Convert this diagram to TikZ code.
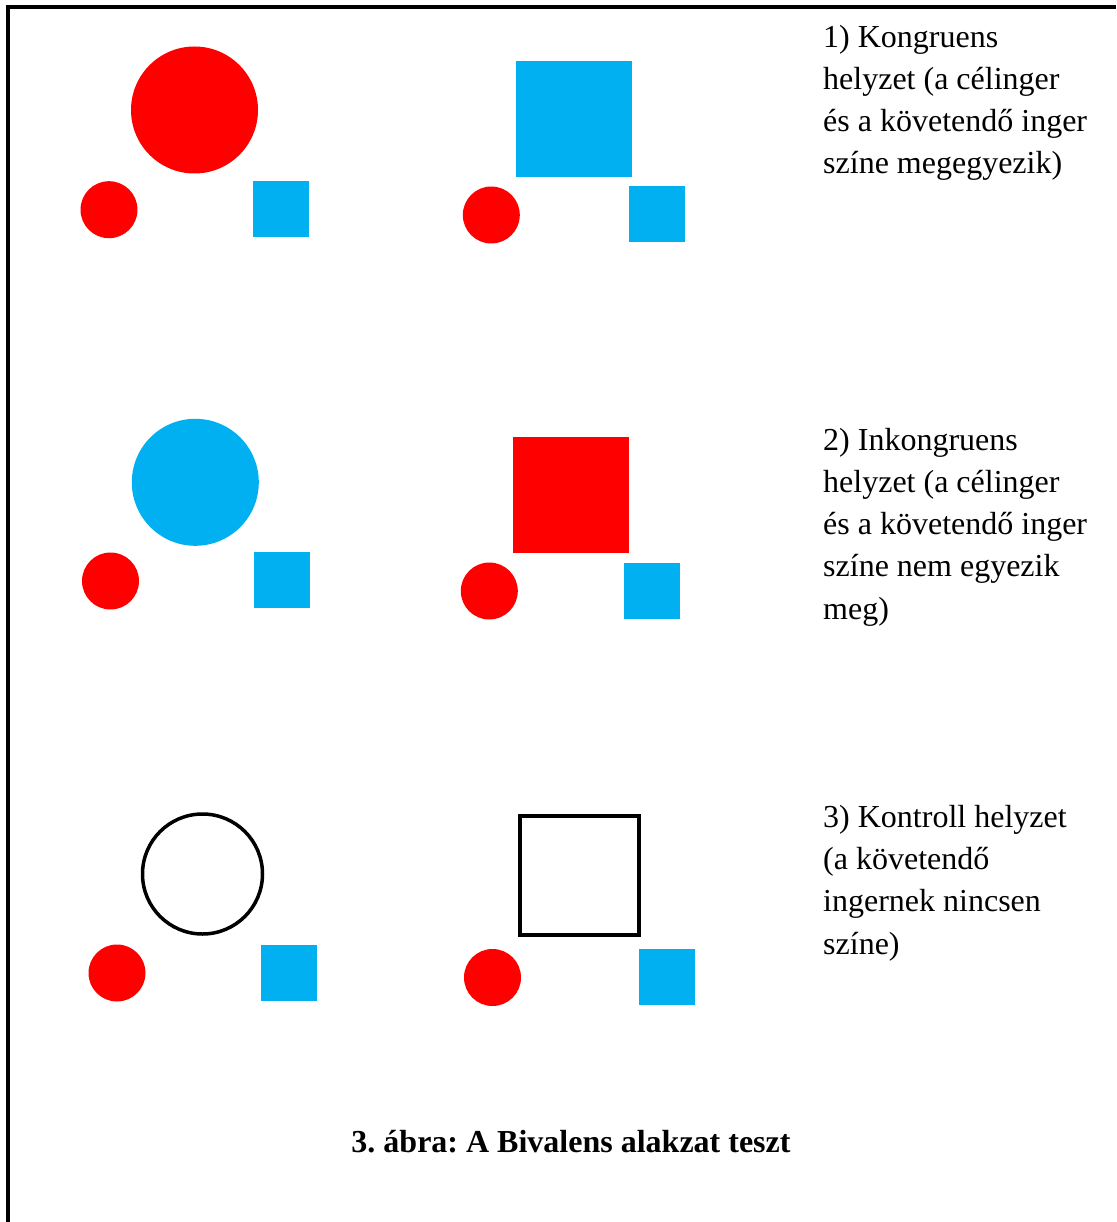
\documentclass[tikz,border=0pt]{standalone}
\usepackage{fontspec}
\setmainfont{Liberation Serif}
\usetikzlibrary{positioning}
\definecolor{stimred}{HTML}{FF0000}
\definecolor{stimblue}{HTML}{00B0F0}

\begin{document}
\frenchspacing
\begin{tikzpicture}[x=1pt, y=-1pt,
  bigdot/.style={circle, inner sep=0pt, minimum size=127pt},
  smalldot/.style={circle, inner sep=0pt, minimum size=57pt, fill=stimred},
  bigbox/.style={rectangle, inner sep=0pt, minimum size=116pt},
  smallbox/.style={rectangle, inner sep=0pt, minimum size=56pt, fill=stimblue},
  label/.style={anchor=base west, inner sep=0pt, align=left,
                font=\fontsize{32}{42.2}\selectfont},
]
  \useasboundingbox (0,0) rectangle (1116,1222);

  % Frame
  \draw[line width=4.5pt] (8,1222) -- (8,7) -- (1116,7);

  % Row 1: congruent
  \node[bigdot, fill=stimred]   (c1big)   at (194.5,110) {};
  \node[smalldot]               (c1dot)   at (109,209.7) {};
  \node[smallbox]               (c1box)   at (280.5,208.7) {};
  \node[bigbox, fill=stimblue]  (s1big)   at (574,119.2) {};
  \node[smalldot]               (s1dot)   at (491.3,215) {};
  \node[smallbox]               (s1box)   at (656.5,214.5) {};
  % (base = last line)
  \node[label] (text1) at (823,174) {1) Kongruens\\helyzet (a célinger\\és a követendő inger\\színe megegyezik)};

  % Row 2: incongruent
  \node[bigdot, fill=stimblue]  (c2big)   at (195.3,482.3) {};
  \node[smalldot]               (c2dot)   at (110.5,581) {};
  \node[smallbox]               (c2box)   at (281.7,580.3) {};
  \node[bigbox, fill=stimred]   (s2big)   at (570.7,495.3) {};
  \node[smalldot]               (s2dot)   at (489.3,591) {};
  \node[smallbox]               (s2box)   at (651.8,590.7) {};
  \node[label] (text2) at (823,619) {2) Inkongruens\\helyzet (a célinger\\és a követendő inger\\színe nem egyezik\\meg)};

  % Row 3: control
  \node[circle, draw, line width=3.5pt, inner sep=0pt, minimum size=120pt] (c3big) at (202.5,874) {};
  \node[smalldot]               (c3dot)   at (117,973) {};
  \node[smallbox]               (c3box)   at (288.7,972.5) {};
  \node[rectangle, draw, line width=4pt, inner sep=0pt, minimum size=119pt] (s3big) at (579,875.7) {};
  \node[smalldot]               (s3dot)   at (492.5,977.5) {};
  \node[smallbox]               (s3box)   at (666.5,976.9) {};
  \node[label] (text3) at (823,954) {3) Kontroll helyzet\\(a követendő\\ingernek nincsen\\színe)};

  % Caption
  \node[anchor=base, inner sep=0pt, font=\fontsize{32}{36}\selectfont\bfseries] (caption) at (571,1152) {3. ábra: A Bivalens alakzat teszt};
\end{tikzpicture}
\end{document}
